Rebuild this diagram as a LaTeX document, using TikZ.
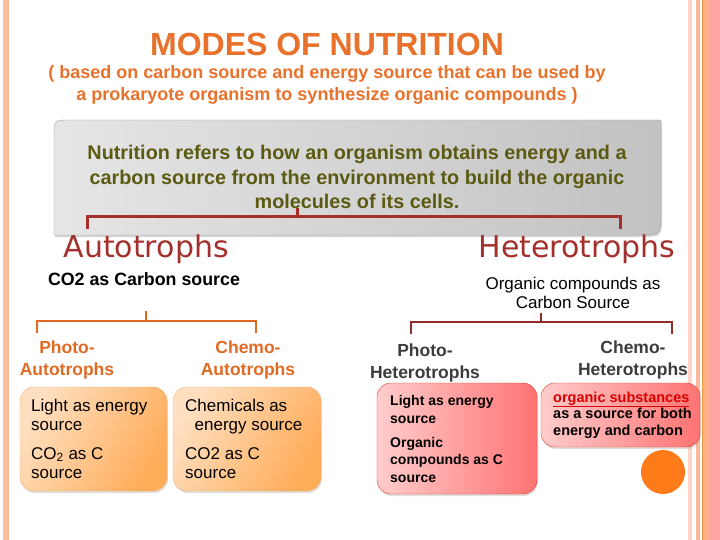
\documentclass[tikz,border=0pt]{standalone}
\usepackage{fontspec}
\setmainfont{Liberation Sans}
\newfontfamily\widefont{DejaVu Sans}
\usetikzlibrary{positioning,shadows}
\definecolor{ttl}{HTML}{E8712C}
\definecolor{olive}{HTML}{5C5A12}
\definecolor{brick}{HTML}{A3302A}
\definecolor{orng}{HTML}{E06A22}
\definecolor{dgrey}{HTML}{3C3C3C}
\tikzset{
  obox/.style={rounded corners=14pt,draw=orange!60!brown!60,left color=orange!25,right color=orange!65,
    shading angle=60,drop shadow={opacity=0.25,shadow xshift=1pt,shadow yshift=-2pt}},
  rbox/.style={rounded corners=14pt,draw=red!50!brown,left color=red!20,right color=red!55,
    drop shadow={opacity=0.25,shadow xshift=1pt,shadow yshift=-2pt}},
  kind/.style={anchor=base west,font=\widefont\fontsize{30}{30}\selectfont,text=brick},
  sub/.style={align=center,anchor=base,font=\bfseries\fontsize{17.5}{22}\selectfont},
  boxtxt/.style={align=left,anchor=base west,inner sep=0pt},
}
\begin{document}
\begin{tikzpicture}[x=1pt,y=-1pt]
  \useasboundingbox (0,0) rectangle (720,540);
  % side bars
  \fill[orange!30!pink!80] (3,0) rectangle (9,540);
  \fill[orange!15!pink!60] (688,0) rectangle (692,540);
  \fill[orange!25!pink!90] (696,0) rectangle (700,540);
  \fill[orange!35!pink!90] (703,0) rectangle (709,540);
  \draw[orange!70!brown!80] (702,0) -- (702,540);
  \fill[red!20!pink!90] (709,0) rectangle (720,540);
  % heading
  \node[anchor=base,font=\bfseries\fontsize{32}{32}\selectfont,text=ttl] (title) at (327,56) {MODES OF NUTRITION};
  \node[anchor=base,align=center,font=\bfseries\fontsize{18}{22}\selectfont,text=ttl] (basis) at (327,101)
    {( based on carbon source and energy source that can be used by\\a prokaryote organism to synthesize organic compounds )};
  % grey definition box
  \shade[left color=gray!20,right color=gray!48,draw=gray!70,drop shadow={opacity=0.35,shadow xshift=1pt,shadow yshift=-2pt}]
    (54,235) -- (54,136) .. controls (54,120) .. (70,120) -- (661,120) -- (661,213) .. controls (661,235) .. (639,235) -- cycle;
  \node[anchor=base,align=center,font=\bfseries\fontsize{19.8}{24}\selectfont,text=olive] (def) at (357,208)
    {Nutrition refers to how an organism obtains energy and a\\carbon source from the environment to build the organic\\molecules of its cells.};
  % red bracket
  \coordinate (b1) at (87,229);
  \coordinate (b2) at (620,229);
  \coordinate (bm) at (297,217);
  \draw[brick,line width=3pt] (b1) |- (bm) -| (b2);
  \draw[brick,line width=3pt] (bm) -- ++(0,-9);
  % the two groups
  \node[kind] (auto) at (60,258) {Autotrophs};
  \node[kind] (hetero) at (475,258) {Heterotrophs};
  \node[anchor=base,font=\bfseries\fontsize{17.8}{17.8}\selectfont] (csrc1) at (144,285) {CO2 as Carbon source};
  \node[anchor=base,align=center,font=\fontsize{17}{19}\selectfont] (csrc2) at (573,308) {Organic compounds as\\Carbon Source};
  % orange bracket
  \coordinate (o1) at (37,333);
  \coordinate (o2) at (256,333);
  \coordinate (om) at (146,321);
  \draw[orng,line width=1.5pt] (o1) |- (om) -| (o2);
  \draw[orng,line width=1.5pt] (om) -- ++(0,-10);
  % dark red bracket
  \coordinate (h1) at (411,334);
  \coordinate (h2) at (672,334);
  \coordinate (hm) at (541,322);
  \draw[brick!90!black,line width=1.5pt] (h1) |- (hm) -| (h2);
  \draw[brick!90!black,line width=1.5pt] (hm) -- ++(0,-9);
  % sub groups
  \node[sub,text=orng] (pa) at (67,375) {Photo-\\Autotrophs};
  \node[sub,text=orng] (ca) at (248,375) {Chemo-\\Autotrophs};
  \node[sub,text=dgrey] (ph) at (425,378) {Photo-\\Heterotrophs};
  \node[sub,text=dgrey] (ch) at (633,375) {Chemo-\\Heterotrophs};
  % boxes
  \path[obox] (20,387) rectangle (167,491);
  \path[obox] (173,387) rectangle (321,491);
  \path[rbox] (377,383) rectangle (537,494);
  \path[rbox] (541,383) rectangle (700,447);
  \begin{scope}[font=\fontsize{17}{19}\selectfont]
    \node[boxtxt] (pa1) at (31,430) {Light as energy\\source};
    \node[boxtxt] (pa2) at (31,478) {CO\textsubscript{2} as C\\source};
    \node[boxtxt] (ca1) at (185,430) {Chemicals as\\\ \ energy source};
    \node[boxtxt] (ca2) at (185,478) {CO2 as C\\source};
  \end{scope}
  \begin{scope}[font=\bfseries\fontsize{14}{17.5}\selectfont]
    \node[boxtxt] (ph1) at (390,423) {Light as energy\\source};
    \node[boxtxt] (ph2) at (390,482) {Organic\\compounds as C\\source};
  \end{scope}
  \node[boxtxt,font=\bfseries\fontsize{14.5}{16.5}\selectfont] (ch1) at (553,435)
    {\textcolor{red!85!black}{\underline{organic substances}}\\as a source for both\\energy and carbon};
  \fill[orange!85!red!90] (663,472) circle (22);
\end{tikzpicture}
\end{document}
